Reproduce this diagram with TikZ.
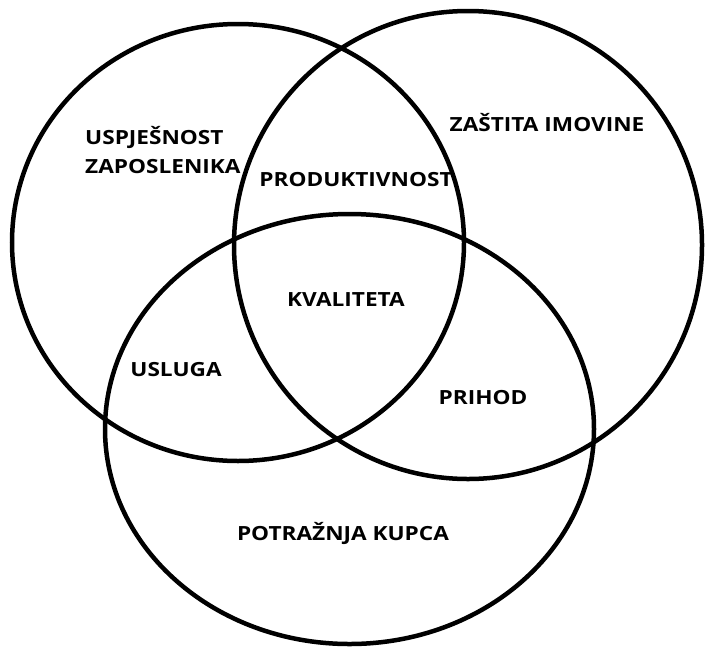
\documentclass[tikz,border=0pt]{standalone}
\usepackage{fontspec}
\setmainfont{Open Sans}
\newcommand{\wideT}[1]{\scalebox{1.16}[1]{#1}}
\begin{document}
\begin{tikzpicture}[x=1pt,y=-1pt,
  ring/.style={draw=black,line width=4.5pt},
  lbl/.style={font=\fontsize{19.5}{22}\selectfont\bfseries,text=black,inner sep=0pt}]
\useasboundingbox (0,0) rectangle (706,648);
\draw[ring] (238,242.5) ellipse [x radius=226,y radius=218.5];
\draw[ring] (468,245) ellipse [x radius=234,y radius=234];
\draw[ring] (349.5,429) ellipse [x radius=244.5,y radius=215];
\node[lbl,anchor=west] (usp) at (85,137) {\wideT{USPJEŠNOST}};
\node[lbl,anchor=west] (zap) at (85,167) {\wideT{ZAPOSLENIKA}};
\node[lbl] (prod) at (356,180) {\wideT{PRODUKTIVNOST}};
\node[lbl] (zas) at (547,123) {\wideT{ZAŠTITA IMOVINE}};
\node[lbl] (kva) at (346,300) {\wideT{KVALITETA}};
\node[lbl] (usl) at (176,370) {\wideT{USLUGA}};
\node[lbl] (pri) at (483,398) {\wideT{PRIHOD}};
\node[lbl] (pot) at (343,533) {\wideT{POTRAŽNJA KUPCA}};
\end{tikzpicture}
\end{document}
